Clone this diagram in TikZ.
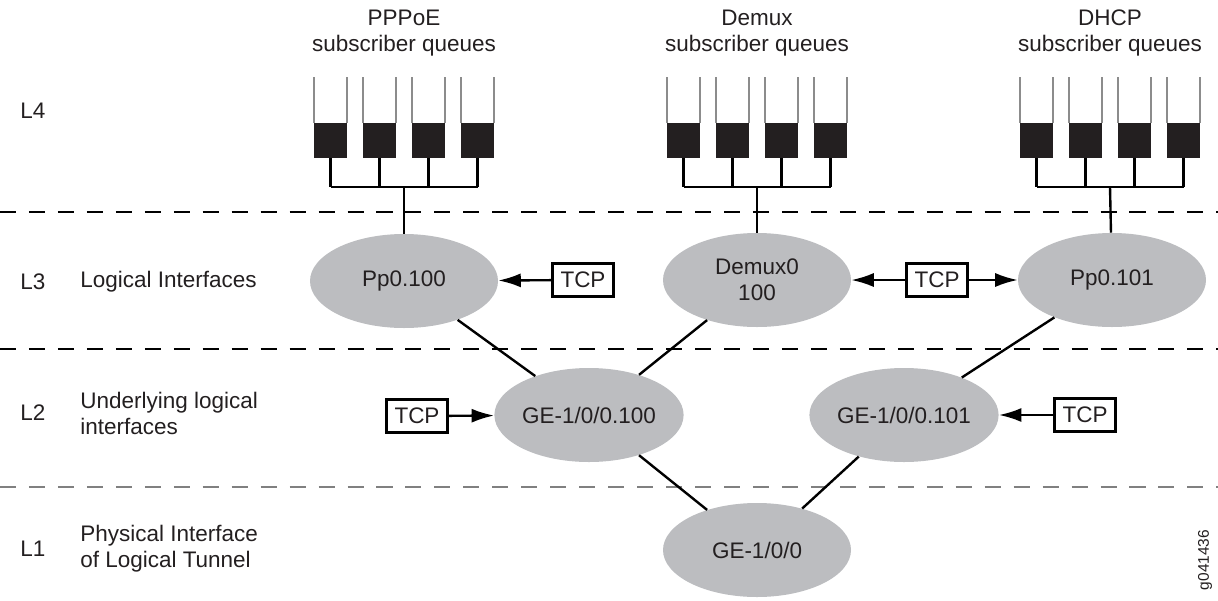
\documentclass[tikz,border=0pt]{standalone}
\usepackage{fontspec}
\setmainfont{Liberation Sans}
\usepackage{xcolor}
\definecolor{ifgray}{RGB}{188,189,192}
\definecolor{qblack}{RGB}{35,31,32}
\definecolor{qline}{RGB}{140,140,140}
\definecolor{sepgray}{RGB}{128,128,128}
\definecolor{txtgray}{RGB}{35,31,32}
\usepackage{tikz}
\usetikzlibrary{arrows.meta, shapes.geometric}

\tikzset{
  txt/.style={font=\fontsize{16}{18.5}\selectfont, text=txtgray},
  iface/.style={ellipse, fill=ifgray, minimum width=47mm, minimum height=23.5mm,
                inner sep=0pt, align=center, txt},
  tcpbox/.style={draw, line width=1.6pt, minimum width=15.25mm, minimum height=8.25mm,
                 inner sep=0pt, txt},
  link/.style={line width=1.7pt},
  tcparrow/.style={line width=1.7pt, -{Latex[length=16pt,width=10pt]}},
  layerline/.style={dash pattern=on 11.4pt off 9.2pt, line width=1.4pt},
  layertag/.style={txt, anchor=center},
  layername/.style={txt, align=left, anchor=west, inner sep=0pt},
  qhead/.style={txt, align=center}
}

\begin{document}
\begin{tikzpicture}[x=0.25mm, y=-0.25mm]
  \useasboundingbox (0,0) rectangle (1218,600);

  % Layer separators
  \draw[layerline] (0,212) -- (1218,212);
  \draw[layerline] (0,349) -- (1218,349);
  \draw[layerline, sepgray] (0,487) -- (1218,487);

  % Layer labels
  \node[layertag] (l4) at (33,111) {L4};
  \node[layertag] (l3) at (33,282) {L3};
  \node[layertag] (l2) at (33,413) {L2};
  \node[layertag] (l1) at (33,549) {L1};
  \node[layername] (l3name) at (80,282) {Logical Interfaces};
  \node[layername] (l2name) at (80,413) {Underlying logical\\interfaces};
  \node[layername] (l1name) at (80,549) {Physical Interface\\of Logical Tunnel};

  % Subscriber queue headers
  \node[qhead] (hpppoe) at (404,33) {PPPoE\\subscriber queues};
  \node[qhead] (hdemux) at (757,33) {Demux\\subscriber queues};
  \node[qhead] (hdhcp)  at (1110,33) {DHCP\\subscriber queues};

  % Subscriber queues
  \foreach \cx/\qname in {404/qpppoe, 757/qdemux, 1110/qdhcp} {
    \foreach \dx in {-73.5,-24.5,24.5,73.5} {
      \draw[qline, line width=0.8pt] ({\cx+\dx-16.5},77) -- ({\cx+\dx-16.5},123);
      \draw[qline, line width=0.8pt] ({\cx+\dx+16.5},77) -- ({\cx+\dx+16.5},123);
      \fill[qblack] ({\cx+\dx-16.5},123) rectangle ({\cx+\dx+16.5},158);
      \draw[link] ({\cx+\dx},158) -- ({\cx+\dx},187);
    }
    \draw[link] ({\cx-73.5},187) -- ({\cx+73.5},187);
    \coordinate (\qname) at (\cx,187);
  }

  % L3 interfaces
  \node[iface] (pp100) at (404,281) {Pp0.100};
  \node[iface] (demux) at (757,280) {Demux0\\100};
  \node[iface] (pp101) at (1112,280) {Pp0.101};

  % L2 interfaces
  \node[iface] (ge100) at (589,415) {GE-1/0/0.100};
  \node[iface] (ge101) at (904,415) {GE-1/0/0.101};

  % L1 interface
  \node[iface] (ge) at (757,550) {GE-1/0/0};

  % TCP boxes
  \node[tcpbox] (tcpa) at (583,280) {TCP};
  \node[tcpbox] (tcpb) at (937,280) {TCP};
  \node[tcpbox] (tcpc) at (417,416) {TCP};
  \node[tcpbox] (tcpd) at (1085,415) {TCP};

  % Links
  \draw[link] (qpppoe) -- (pp100);
  \draw[link] (qdemux) -- (demux);
  \draw[link] (qdhcp) -- (pp101);
  \draw[link] (pp100) -- (ge100);
  \draw[link] (demux) -- (ge100);
  \draw[link] (pp101) -- (ge101);
  \draw[link] (ge100) -- (ge);
  \draw[link] (ge101) -- (ge);

  % TCP arrows
  \draw[tcparrow] (tcpa) -- (pp100);
  \draw[tcparrow] (tcpb) -- (demux);
  \draw[tcparrow] (tcpb) -- (pp101);
  \draw[tcparrow] (tcpc) -- (ge100);
  \draw[tcparrow] (tcpd) -- (ge101);

  % Figure id
  \node[rotate=90, font=\fontsize{11}{13}\selectfont, text=txtgray] (figid) at (1205,560) {g041436};
\end{tikzpicture}
\end{document}
